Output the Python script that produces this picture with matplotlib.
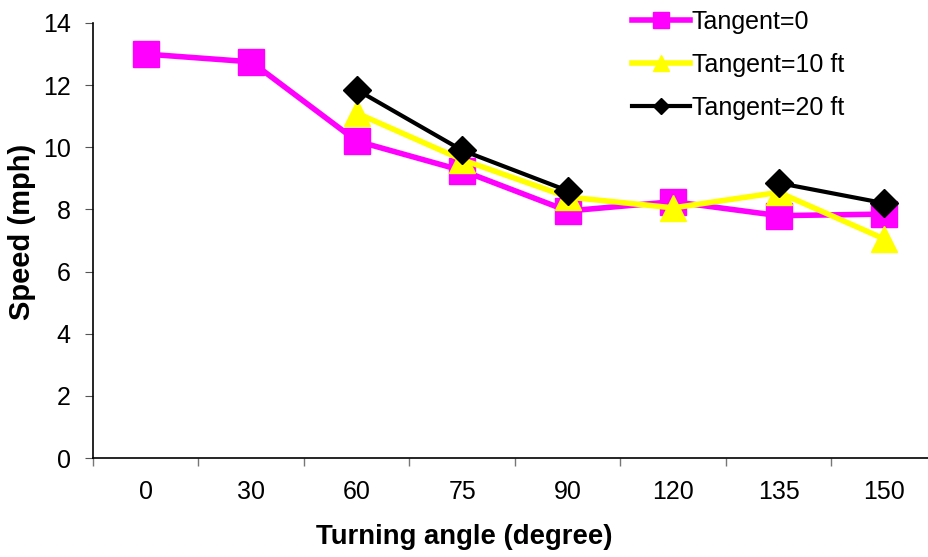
import numpy as np
import matplotlib
matplotlib.use("Agg")
import matplotlib.pyplot as plt

categories = ["0", "30", "60", "75", "90", "120", "135", "150"]
tangent_0 = [13.0, 12.75, 10.2, 9.25, 7.95, 8.25, 7.8, 7.85]
tangent_10 = [np.nan, np.nan, 11.1, 9.6, 8.4, 8.05, 8.55, 7.05]
tangent_20 = [np.nan, np.nan, 11.85, 9.9, 8.6, np.nan, 8.85, 8.2]
yticks = [0, 2, 4, 6, 8, 10, 12, 14]

plt.rcParams['font.family'] = ['Liberation Sans', 'DejaVu Sans']

fig = plt.figure(figsize=(9.29, 5.57), dpi=100)
ax = fig.add_axes([93/929, 1-458/557, 844/929, 435/557])

x = np.arange(len(categories))
ax.plot(x, tangent_0, color='#FF00FF', lw=4, marker='s', ms=19,
        label='Tangent=0', zorder=3)
ax.plot(x, tangent_10, color='#FFFF00', lw=4, marker='^', ms=19,
        label='Tangent=10 ft', zorder=4)
ax.plot(x, tangent_20, color='black', lw=3, marker='D', ms=14,
        label='Tangent=20 ft', zorder=5)

ax.set_xlim(-0.5, len(categories) - 0.5)
ax.set_ylim(0, 14)
ax.set_yticks(yticks)
ax.set_xticks(x)
ax.set_xticklabels(categories)
ax.set_xticks(np.arange(len(categories) + 1) - 0.5, minor=True)
ax.tick_params(axis='x', which='major', length=0, pad=16, labelsize=18)
ax.tick_params(axis='x', which='minor', length=6, color='#777777', width=1)
ax.tick_params(axis='y', length=6, pad=10, labelsize=18, color='#555555')

for s in ['top', 'right']:
    ax.spines[s].set_visible(False)
ax.spines['left'].set_linewidth(1.2)
ax.spines['bottom'].set_linewidth(1.2)

ax.set_xlabel('Turning angle (degree)', fontsize=19.8, fontweight='bold')
ax.set_ylabel('Speed (mph)', fontsize=21, fontweight='bold')
ax.xaxis.set_label_coords((464 - 93) / 844, -(537 - 458) / 435, transform=ax.transAxes)
ax.xaxis.label.set_va('center')
ax.yaxis.set_label_coords(-(93 - 22) / 844, (458 - 232) / 435, transform=ax.transAxes)
ax.yaxis.label.set_va('center')

leg = ax.legend(loc='upper left', bbox_to_anchor=(622/929, 1.0), bbox_transform=fig.transFigure,
                frameon=False, fontsize=18, handlelength=2.3, handletextpad=0.1,
                labelspacing=0.75, markerscale=0.6, borderaxespad=0.0)

fig.savefig('out.png', dpi=100)
